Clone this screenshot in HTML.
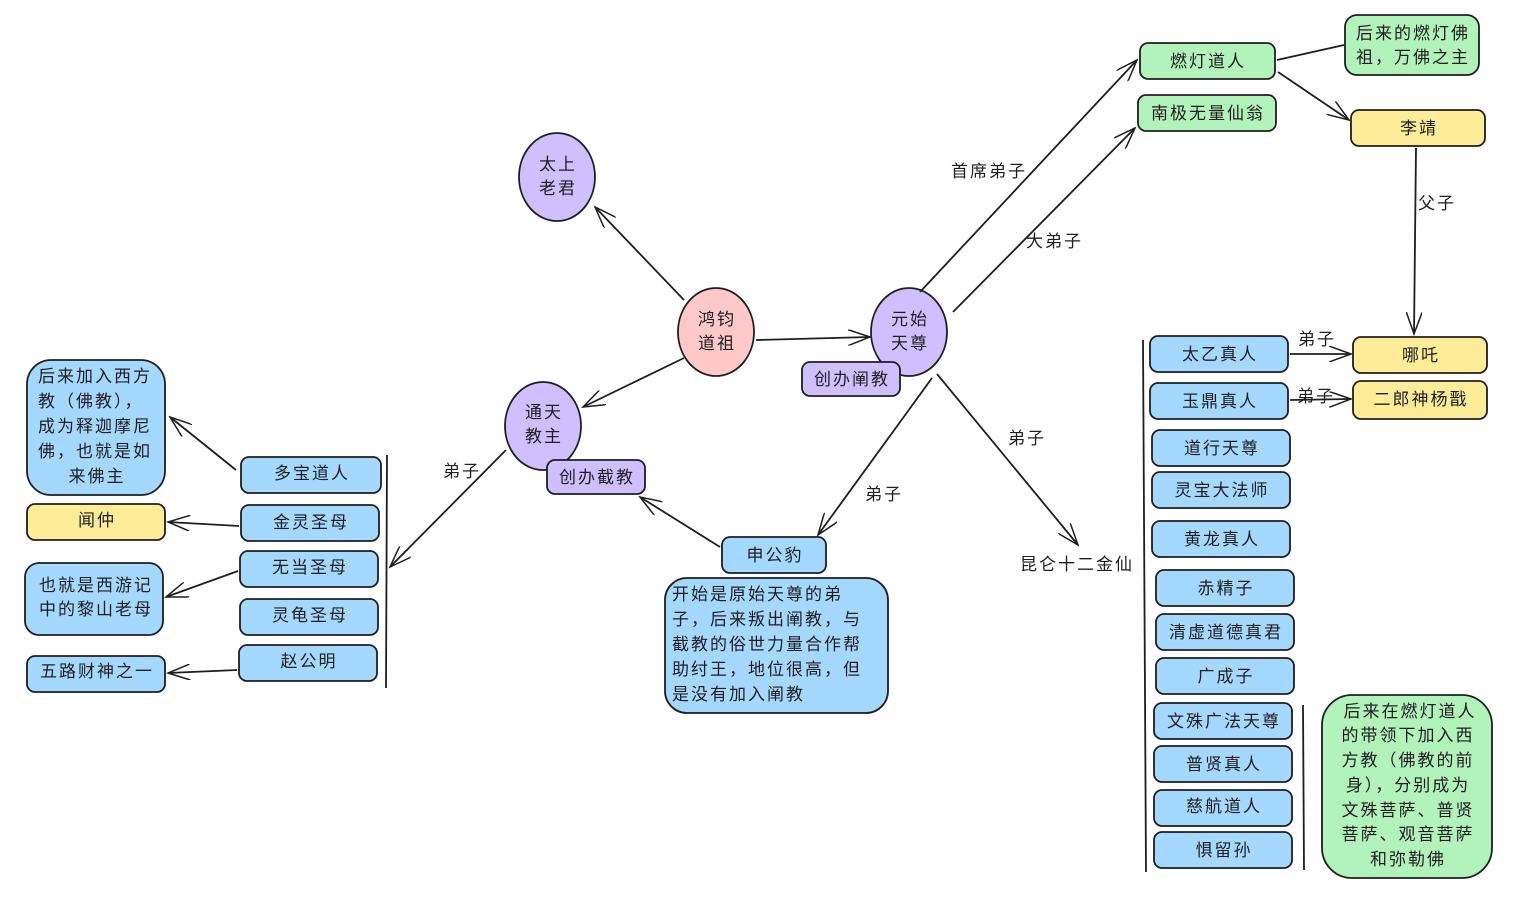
<!DOCTYPE html>
<html><head><meta charset="utf-8"><style>
body{margin:0;background:#fff}
svg text{font-family:"Liberation Sans","Noto Sans CJK SC",sans-serif;font-size:17px;fill:#1e1e1e;letter-spacing:2px}
</style></head><body>
<svg width="1526" height="898" viewBox="0 0 1526 898" xmlns="http://www.w3.org/2000/svg">
<defs>
<marker id="a" markerWidth="24" markerHeight="16" refX="22" refY="8" orient="auto" markerUnits="userSpaceOnUse">
<path d="M0,0 L22,8 L0,16" fill="none" stroke="#1e1e1e" stroke-width="1.5"/>
</marker>
</defs>
<g stroke="#1e1e1e" stroke-width="1.8">
<ellipse cx="557" cy="177" rx="38" ry="44" fill="#d0bfff"/>
<ellipse cx="716" cy="332" rx="38" ry="44" fill="#ffc9c9"/>
<ellipse cx="909" cy="332" rx="38" ry="44" fill="#d0bfff"/>
<ellipse cx="543" cy="426" rx="38" ry="44" fill="#d0bfff"/>
<rect x="802" y="362" width="98" height="34" rx="8" fill="#d0bfff"/>
<rect x="547" y="460" width="98" height="34" rx="8" fill="#d0bfff"/>
<rect x="722" y="537" width="104" height="36" rx="8" fill="#a5d8ff"/>
<rect x="665" y="578" width="223" height="135" rx="22" fill="#a5d8ff"/>
<rect x="1140" y="43" width="135" height="36" rx="8" fill="#b2f2bb"/>
<rect x="1138" y="95" width="138" height="36" rx="8" fill="#b2f2bb"/>
<rect x="1345" y="15" width="134" height="60" rx="12" fill="#b2f2bb"/>
<rect x="1351" y="110" width="134" height="36" rx="8" fill="#ffec99"/>
<rect x="1353" y="337" width="134" height="36" rx="8" fill="#ffec99"/>
<rect x="1353" y="381" width="134" height="38" rx="8" fill="#ffec99"/>
<rect x="1150" y="336" width="138" height="36" rx="8" fill="#a5d8ff"/>
<rect x="1150" y="383" width="138" height="36" rx="8" fill="#a5d8ff"/>
<rect x="1152" y="430" width="138" height="36" rx="8" fill="#a5d8ff"/>
<rect x="1152" y="472" width="138" height="36" rx="8" fill="#a5d8ff"/>
<rect x="1152" y="521" width="138" height="36" rx="8" fill="#a5d8ff"/>
<rect x="1156" y="570" width="138" height="36" rx="8" fill="#a5d8ff"/>
<rect x="1156" y="614" width="138" height="36" rx="8" fill="#a5d8ff"/>
<rect x="1156" y="658" width="138" height="36" rx="8" fill="#a5d8ff"/>
<rect x="1154" y="703" width="138" height="36" rx="8" fill="#a5d8ff"/>
<rect x="1154" y="746" width="138" height="36" rx="8" fill="#a5d8ff"/>
<rect x="1154" y="790" width="138" height="36" rx="8" fill="#a5d8ff"/>
<rect x="1154" y="832" width="138" height="36" rx="8" fill="#a5d8ff"/>
<rect x="1322" y="695" width="170" height="183" rx="30" fill="#b2f2bb"/>
<rect x="241" y="457" width="140" height="36" rx="8" fill="#a5d8ff"/>
<rect x="241" y="505" width="138" height="36" rx="8" fill="#a5d8ff"/>
<rect x="240" y="551" width="138" height="36" rx="8" fill="#a5d8ff"/>
<rect x="240" y="599" width="138" height="36" rx="8" fill="#a5d8ff"/>
<rect x="239" y="645" width="138" height="36" rx="8" fill="#a5d8ff"/>
<rect x="27" y="360" width="138" height="135" rx="24" fill="#a5d8ff"/>
<rect x="27" y="504" width="138" height="36" rx="8" fill="#ffec99"/>
<rect x="25" y="563" width="138" height="72" rx="14" fill="#a5d8ff"/>
<rect x="27" y="656" width="138" height="36" rx="8" fill="#a5d8ff"/>
<g fill="none">
<line x1="1143" y1="340" x2="1146" y2="872"/>
<line x1="1303" y1="705" x2="1304" y2="870"/>
<line x1="387" y1="455" x2="386" y2="688"/>
<line x1="684" y1="300" x2="595" y2="207" marker-end="url(#a)"/>
<line x1="756" y1="340" x2="870" y2="337" marker-end="url(#a)"/>
<line x1="684" y1="358" x2="583" y2="407" marker-end="url(#a)"/>
<line x1="920" y1="292" x2="1137" y2="60" marker-end="url(#a)"/>
<line x1="953" y1="312" x2="1135" y2="128" marker-end="url(#a)"/>
<line x1="932" y1="378" x2="818" y2="535" marker-end="url(#a)"/>
<line x1="937" y1="374" x2="1078" y2="545" marker-end="url(#a)"/>
<line x1="720" y1="547" x2="640" y2="497" marker-end="url(#a)"/>
<line x1="506" y1="450" x2="390" y2="567" marker-end="url(#a)"/>
<line x1="1277" y1="60" x2="1344" y2="45"/>
<line x1="1278" y1="72" x2="1349" y2="120" marker-end="url(#a)"/>
<line x1="1416" y1="148" x2="1414" y2="334" marker-end="url(#a)"/>
<line x1="1290" y1="354" x2="1351" y2="354" marker-end="url(#a)"/>
<line x1="1290" y1="400" x2="1351" y2="399" marker-end="url(#a)"/>
<line x1="236" y1="470" x2="170" y2="417" marker-end="url(#a)"/>
<line x1="239" y1="526" x2="168" y2="522" marker-end="url(#a)"/>
<line x1="238" y1="571" x2="166" y2="597" marker-end="url(#a)"/>
<line x1="237" y1="670" x2="168" y2="673" marker-end="url(#a)"/>
</g>
</g>
<g text-anchor="middle">
<text x="558" y="170">太上</text><text x="558" y="194">老君</text>
<text x="717" y="325">鸿钧</text><text x="717" y="349">道祖</text>
<text x="910" y="325">元始</text><text x="910" y="349">天尊</text>
<text x="544" y="418">通天</text><text x="544" y="442">教主</text>
<text x="852" y="385">创办阐教</text>
<text x="597" y="483">创办截教</text>
<text x="775" y="561">申公豹</text>
<text x="1208" y="67">燃灯道人</text>
<text x="1208" y="119">南极无量仙翁</text>
<text x="1413" y="39">后来的燃灯佛</text><text x="1413" y="63">祖，万佛之主</text>
<text x="1419" y="134">李靖</text>
<text x="1421" y="361">哪吒</text>
<text x="1421" y="405">二郎神杨戬</text>
<text x="1220" y="360">太乙真人</text>
<text x="1220" y="407">玉鼎真人</text>
<text x="1222" y="454">道行天尊</text>
<text x="1222" y="496">灵宝大法师</text>
<text x="1222" y="545">黄龙真人</text>
<text x="1226" y="594">赤精子</text>
<text x="1226" y="638">清虚道德真君</text>
<text x="1226" y="682">广成子</text>
<text x="1224" y="727">文殊广法天尊</text>
<text x="1224" y="770">普贤真人</text>
<text x="1224" y="812">慈航道人</text>
<text x="1224" y="856">惧留孙</text>
<text x="1410" y="717">后来在燃灯道人</text>
<text x="1408" y="741">的带领下加入西</text>
<text x="1408" y="766">方教（佛教的前</text>
<text x="1408" y="791">身），分别成为</text>
<text x="1408" y="816">文殊菩萨、普贤</text>
<text x="1408" y="840">菩萨、观音菩萨</text>
<text x="1408" y="865">和弥勒佛</text>
<text x="312" y="479">多宝道人</text>
<text x="311" y="528">金灵圣母</text>
<text x="310" y="573">无当圣母</text>
<text x="310" y="621">灵龟圣母</text>
<text x="309" y="667">赵公明</text>
<text x="97" y="526">闻仲</text>
<text x="96" y="591">也就是西游记</text><text x="96" y="615">中的黎山老母</text>
<text x="97" y="677">五路财神之一</text>
<text x="97" y="482">来佛主</text>
<text x="1077" y="570">昆仑十二金仙</text>
</g>
<text x="38" y="382">后来加入西方</text>
<text x="38" y="407">教（佛教），</text>
<text x="38" y="432">成为释迦摩尼</text>
<text x="38" y="457">佛，也就是如</text>
<text x="672" y="600">开始是原始天尊的弟</text>
<text x="672" y="625">子，后来叛出阐教，与</text>
<text x="672" y="650">截教的俗世力量合作帮</text>
<text x="672" y="675">助纣王，地位很高，但</text>
<text x="672" y="700">是没有加入阐教</text>
<text x="951" y="177">首席弟子</text>
<text x="1026" y="247">大弟子</text>
<text x="1008" y="444">弟子</text>
<text x="865" y="500">弟子</text>
<text x="443" y="477">弟子</text>
<text x="1418" y="209">父子</text>
<text x="1298" y="345">弟子</text>
<text x="1297" y="402">弟子</text>
</svg>
</body></html>
